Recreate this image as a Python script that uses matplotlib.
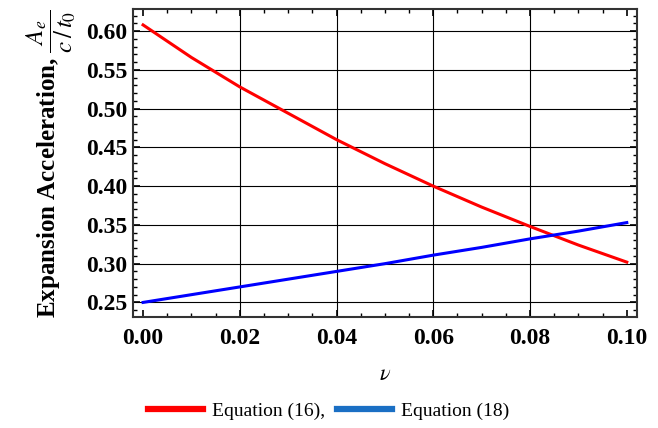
import numpy as np
import matplotlib.pyplot as plt
from matplotlib.ticker import MultipleLocator
from matplotlib.lines import Line2D

plt.rcParams['font.family'] = ['Liberation Serif', 'DejaVu Serif']
plt.rcParams['mathtext.fontset'] = 'stix'

# data
nu = [0.00, 0.01, 0.02, 0.03, 0.04, 0.05, 0.06, 0.07, 0.08, 0.09, 0.10]
eq16 = [0.608, 0.566, 0.528, 0.494, 0.460, 0.429, 0.400, 0.373, 0.348, 0.324, 0.302]
eq18 = [0.250, 0.260, 0.270, 0.280, 0.290, 0.300, 0.311, 0.321, 0.332, 0.342, 0.353]
labels = ["Equation (16),", "Equation (18)"]
x_grid = [0.02, 0.04, 0.06, 0.08]
y_grid = [0.25, 0.30, 0.35, 0.40, 0.45, 0.50, 0.55, 0.60]

fig = plt.figure(figsize=(6.58, 4.28), dpi=100)
ax = fig.add_axes([0.202, 0.259, 0.766, 0.719])

for gx in x_grid:
    ax.axvline(gx, color='black', lw=0.8, zorder=1)
for gy in y_grid:
    ax.axhline(gy, color='black', lw=0.8, zorder=1)

ax.plot(nu, eq16, color='#ff0000', lw=2.2, zorder=3)
ax.plot(nu, eq18, color='#0000ff', lw=2.2, zorder=3)

ax.set_xlim(-0.0021, 0.1021)
ax.set_ylim(0.231, 0.628)
ax.xaxis.set_major_locator(MultipleLocator(0.02))
ax.xaxis.set_minor_locator(MultipleLocator(0.005))
ax.yaxis.set_major_locator(MultipleLocator(0.05))
ax.yaxis.set_minor_locator(MultipleLocator(0.01))
ax.xaxis.set_major_formatter(plt.FormatStrFormatter('%.2f'))
ax.yaxis.set_major_formatter(plt.FormatStrFormatter('%.2f'))
ax.tick_params(which='both', direction='in', top=True, right=True, labelsize=17)
ax.tick_params(which='major', length=5, width=1.2)
ax.tick_params(which='minor', length=3, width=1.0)
for lab in ax.get_xticklabels() + ax.get_yticklabels():
    lab.set_fontweight('bold')
ax.tick_params(axis='x', pad=8)
ax.tick_params(axis='y', pad=4)
for s in ax.spines.values():
    s.set_linewidth(1.5)
    s.set_color('#333333')

ax.set_xlabel(r'$\nu$', fontsize=16, labelpad=12)
ax.set_ylabel(r'Expansion Acceleration, $\dfrac{A_e}{c\,/\,t_0}$', fontsize=18,
              fontweight='bold', labelpad=6)

handles = [Line2D([], [], color='#ff0000', lw=4.5),
           Line2D([], [], color='#1a6fc4', lw=4.5)]
fig.legend(handles, labels, loc='center', bbox_to_anchor=(0.5, 0.04), ncol=2,
           frameon=False, fontsize=14, handlelength=2.8, columnspacing=0.6,
           handletextpad=0.5)

fig.savefig('out.png', dpi=100)
